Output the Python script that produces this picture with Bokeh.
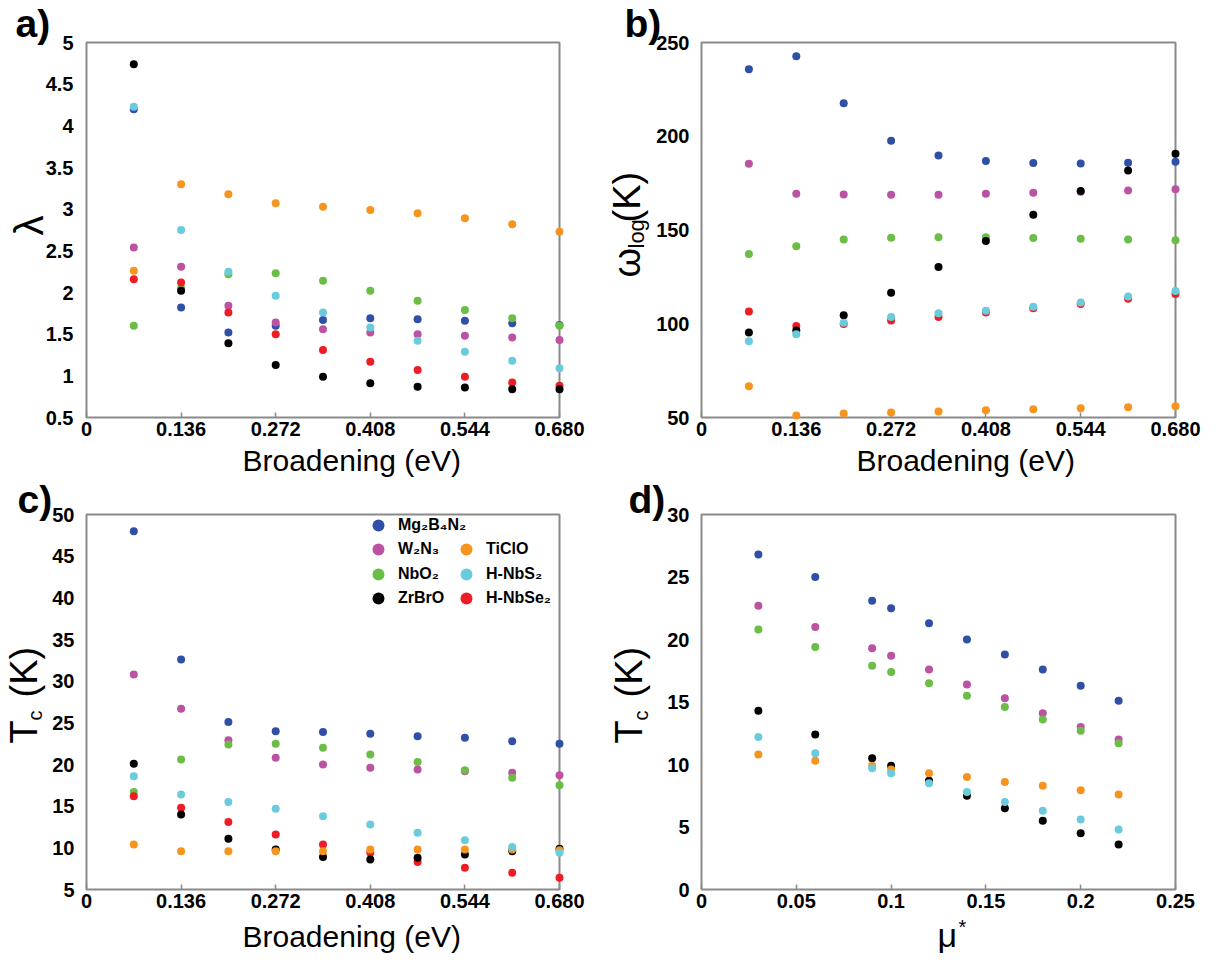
from bokeh.plotting import figure
from bokeh.models import Range1d, FixedTicker, Title, Legend, LegendItem
from bokeh.layouts import column, row
from bokeh.embed import file_html
from bokeh.resources import INLINE

# ---------------- data ----------------
broadening = [0.068, 0.136, 0.204, 0.272, 0.340, 0.408, 0.476, 0.544, 0.612, 0.680]
mu_star = [0.03, 0.06, 0.09, 0.10, 0.12, 0.14, 0.16, 0.18, 0.20, 0.22]

materials = ["Mg2B4N2", "W2N3", "NbO2", "HNbSe2", "ZrBrO", "TiClO", "HNbS2"]  # drawing order
legend_names = {"Mg2B4N2": "Mg₂B₄N₂", "W2N3": "W₂N₃", "NbO2": "NbO₂", "ZrBrO": "ZrBrO",
                "TiClO": "TiClO", "HNbS2": "H-NbS₂", "HNbSe2": "H-NbSe₂"}
colors = {"Mg2B4N2": "#3050A8", "W2N3": "#BB52A2", "NbO2": "#6BBD46", "ZrBrO": "#000000",
          "TiClO": "#F7941E", "HNbS2": "#6ACBDD", "HNbSe2": "#EE1D25"}

# (a) lambda vs broadening
lam_Mg2B4N2 = [4.20, 1.82, 1.52, 1.60, 1.67, 1.69, 1.68, 1.66, 1.63, 1.61]
lam_W2N3 = [2.54, 2.31, 1.84, 1.64, 1.56, 1.52, 1.50, 1.48, 1.46, 1.43]
lam_NbO2 = [1.60, 2.05, 2.22, 2.23, 2.14, 2.02, 1.90, 1.79, 1.69, 1.60]
lam_ZrBrO = [4.74, 2.02, 1.39, 1.13, 0.99, 0.91, 0.87, 0.86, 0.84, 0.84]
lam_TiClO = [2.26, 3.30, 3.18, 3.07, 3.03, 2.99, 2.95, 2.89, 2.82, 2.73]
lam_HNbS2 = [4.23, 2.75, 2.25, 1.96, 1.76, 1.58, 1.42, 1.29, 1.18, 1.09]
lam_HNbSe2 = [2.16, 2.12, 1.76, 1.50, 1.31, 1.17, 1.07, 0.99, 0.92, 0.88]

# (b) omega_log (K) vs broadening
wlog_Mg2B4N2 = [235.8, 242.7, 217.6, 197.6, 189.8, 186.8, 185.7, 185.5, 185.9, 186.4]
wlog_W2N3 = [185.3, 169.4, 169.0, 168.8, 168.8, 169.4, 169.9, 170.4, 171.1, 171.7]
wlog_NbO2 = [137.2, 141.3, 144.9, 145.9, 146.1, 146.1, 145.7, 145.4, 145.0, 144.5]
wlog_ZrBrO = [95.3, 96.4, 104.5, 116.6, 130.3, 144.1, 158.2, 170.8, 181.8, 190.7]
wlog_TiClO = [66.7, 51.1, 52.1, 52.7, 53.2, 53.9, 54.4, 55.0, 55.5, 56.0]
wlog_HNbS2 = [90.7, 94.4, 100.6, 103.6, 105.6, 107.0, 109.1, 111.3, 114.5, 117.5]
wlog_HNbSe2 = [106.5, 98.8, 99.9, 101.7, 103.6, 106.0, 108.3, 110.6, 113.4, 115.9]

# (c) Tc (K) vs broadening
tcb_Mg2B4N2 = [48.0, 32.6, 25.1, 24.0, 23.9, 23.7, 23.4, 23.2, 22.8, 22.5]
tcb_W2N3 = [30.8, 26.7, 22.9, 20.8, 20.0, 19.6, 19.4, 19.2, 19.0, 18.7]
tcb_NbO2 = [16.7, 20.6, 22.4, 22.5, 22.0, 21.2, 20.3, 19.3, 18.4, 17.5]
tcb_ZrBrO = [20.1, 14.0, 11.1, 9.8, 8.9, 8.6, 8.8, 9.2, 9.6, 9.9]
tcb_TiClO = [10.4, 9.6, 9.6, 9.6, 9.6, 9.8, 9.8, 9.8, 9.8, 9.7]
tcb_HNbS2 = [18.6, 16.4, 15.5, 14.7, 13.8, 12.8, 11.8, 10.9, 10.1, 9.4]
tcb_HNbSe2 = [16.2, 14.8, 13.1, 11.6, 10.4, 9.4, 8.3, 7.6, 7.0, 6.4]

# (d) Tc (K) vs mu*
tcm_Mg2B4N2 = [26.8, 25.0, 23.1, 22.5, 21.3, 20.0, 18.8, 17.6, 16.3, 15.1]
tcm_W2N3 = [22.7, 21.0, 19.3, 18.7, 17.6, 16.4, 15.3, 14.1, 13.0, 12.0]
tcm_NbO2 = [20.8, 19.4, 17.9, 17.4, 16.5, 15.5, 14.6, 13.6, 12.7, 11.7]
tcm_ZrBrO = [14.3, 12.4, 10.5, 9.9, 8.7, 7.5, 6.5, 5.5, 4.5, 3.6]
tcm_TiClO = [10.8, 10.3, 9.9, 9.6, 9.3, 9.0, 8.6, 8.3, 7.95, 7.6]
tcm_HNbS2 = [12.2, 10.9, 9.7, 9.3, 8.5, 7.8, 7.0, 6.3, 5.6, 4.8]

lam = {"Mg2B4N2": lam_Mg2B4N2, "W2N3": lam_W2N3, "NbO2": lam_NbO2, "ZrBrO": lam_ZrBrO,
       "TiClO": lam_TiClO, "HNbS2": lam_HNbS2, "HNbSe2": lam_HNbSe2}
wlog = {"Mg2B4N2": wlog_Mg2B4N2, "W2N3": wlog_W2N3, "NbO2": wlog_NbO2, "ZrBrO": wlog_ZrBrO,
        "TiClO": wlog_TiClO, "HNbS2": wlog_HNbS2, "HNbSe2": wlog_HNbSe2}
tcb = {"Mg2B4N2": tcb_Mg2B4N2, "W2N3": tcb_W2N3, "NbO2": tcb_NbO2, "ZrBrO": tcb_ZrBrO,
       "TiClO": tcb_TiClO, "HNbS2": tcb_HNbS2, "HNbSe2": tcb_HNbSe2}
tcm = {"Mg2B4N2": tcm_Mg2B4N2, "W2N3": tcm_W2N3, "NbO2": tcm_NbO2, "ZrBrO": tcm_ZrBrO,
       "TiClO": tcm_TiClO, "HNbS2": tcm_HNbS2}

x_ticks_b = [0, 0.136, 0.272, 0.408, 0.544, 0.680]
x_labels_b = ["0", "0.136", "0.272", "0.408", "0.544", "0.680"]
x_ticks_mu = [0, 0.05, 0.1, 0.15, 0.2, 0.25]
x_labels_mu = ["0", "0.05", "0.1", "0.15", "0.2", "0.25"]
y_ticks_a = [0.5, 1, 1.5, 2, 2.5, 3, 3.5, 4, 4.5, 5]
y_labels_a = ["0.5", "1", "1.5", "2", "2.5", "3", "3.5", "4", "4.5", "5"]
y_ticks_b = [50, 100, 150, 200, 250]
y_ticks_c = [5, 10, 15, 20, 25, 30, 35, 40, 45, 50]
y_ticks_d = [0, 5, 10, 15, 20, 25, 30]

FONT = "Liberation Sans"
FRAME = "#8a8a8a"


def make_fig(w, h, left, right, top, bottom, xr, yr, xt, xl, yt, yl, ystand):
    p = figure(width=w, height=h, x_range=Range1d(*xr), y_range=Range1d(*yr),
               output_backend="svg", toolbar_location=None,
               min_border_left=left, min_border_right=right,
               min_border_top=top, min_border_bottom=bottom)
    p.xgrid.visible = False
    p.ygrid.visible = False
    p.outline_line_color = FRAME
    p.outline_line_width = 2
    p.background_fill_color = "white"
    p.border_fill_color = "white"
    for ax in (p.xaxis, p.yaxis):
        ax.axis_line_color = None
        ax.minor_tick_line_color = None
        ax.major_label_text_font = FONT
        ax.major_label_text_font_style = "bold"
        ax.major_label_text_font_size = "20px"
        ax.major_label_text_color = "black"
    p.xaxis.ticker = FixedTicker(ticks=xt)
    p.xaxis.major_label_overrides = {t: s for t, s in zip(xt, xl)}
    p.xaxis.major_tick_in = 5
    p.xaxis.major_tick_out = 0
    p.xaxis.major_tick_line_color = FRAME
    p.xaxis.major_tick_line_width = 1.5
    p.xaxis.major_label_standoff = 4
    p.yaxis.ticker = FixedTicker(ticks=yt)
    p.yaxis.major_label_overrides = {t: s for t, s in zip(yt, yl)}
    p.yaxis.major_tick_line_color = None
    p.yaxis.major_label_standoff = ystand
    return p


def side_text(p, side, text, size, offset, standoff, valign, style="normal"):
    """Text placed in a zero-size side panel (title annotation) so it is not clipped."""
    p.add_layout(Title(text=text, align="left", vertical_align=valign, offset=offset,
                       standoff=standoff, text_font=FONT, text_font_size=size,
                       text_font_style=style, text_color="black"), side)


def points(p, xs, data):
    rs = {}
    for m in materials:
        if m in data:
            rs[m] = p.scatter(xs, data[m], size=8, marker="circle",
                              fill_color=colors[m], line_color=None, level="overlay")
    return rs


BROAD = "Broadening (eV)"

# (a)
pa = make_fig(599, 477, 86, 40, 42, 60, (0, 0.68), (0.5, 5),
              x_ticks_b, x_labels_b, y_ticks_a, y_labels_a, 7)
points(pa, broadening, lam)
side_text(pa, "above", "a)", "39px", -71, -81, "top", "bold")
side_text(pa, "left", "λ", "40px", 182, -72, "top")
side_text(pa, "below", BROAD, "30px", 156, -76, "bottom")

# (b)
pb = make_fig(624, 477, 102, 48, 42, 60, (0, 0.68), (50, 250),
              x_ticks_b, x_labels_b, y_ticks_b, [str(v) for v in y_ticks_b], 6)
points(pb, broadening, wlog)
side_text(pb, "above", "b)", "39px", -77, -81, "top", "bold")
side_text(pb, "left", "ω", "38px", 140, -96, "top")
side_text(pb, "left", "log", "22px", 169, -60, "top")
side_text(pb, "left", "(K)", "38px", 195, -96, "top")
side_text(pb, "below", BROAD, "30px", 155, -76, "bottom")

# (c)
pc = make_fig(599, 484, 86, 40, 37, 72, (0, 0.68), (5, 50),
              x_ticks_b, x_labels_b, y_ticks_c, [str(v) for v in y_ticks_c], 6)
rc = points(pc, broadening, tcb)
side_text(pc, "above", "c)", "39px", -69, -73, "top", "bold")
side_text(pc, "left", "T", "38px", 146, -93, "top")
side_text(pc, "left", "c", "20px", 169, -52, "top")
side_text(pc, "left", "(K)", "38px", 192, -93, "top")
side_text(pc, "below", BROAD, "30px", 156, -84, "bottom")

# legend: one small legend per row (two columns, first row has one entry)
leg_kw = dict(orientation="vertical", glyph_height=30, glyph_width=30, spacing=0,
              padding=0, margin=0, label_standoff=5, label_height=20,
              label_text_font=FONT, label_text_font_style="bold",
              label_text_font_size="16px", label_text_color="black",
              border_line_color=None, background_fill_alpha=0)
legend_cells = [("Mg2B4N2", 277, 349), ("W2N3", 277, 325), ("NbO2", 277, 300),
                ("ZrBrO", 277, 276), ("TiClO", 365, 325), ("HNbS2", 365, 300),
                ("HNbSe2", 365, 276)]
for m, lx, ly in legend_cells:
    pc.add_layout(Legend(items=[LegendItem(label=legend_names[m], renderers=[rc[m]])],
                         location=(lx, ly), **leg_kw))

# (d)
pd_ = make_fig(624, 484, 102, 48, 37, 72, (0, 0.25), (0, 30),
               x_ticks_mu, x_labels_mu, y_ticks_d, [str(v) for v in y_ticks_d], 6)
points(pd_, mu_star, tcm)
side_text(pd_, "above", "d)", "39px", -73, -73, "top", "bold")
side_text(pd_, "left", "T", "38px", 146, -113, "top")
side_text(pd_, "left", "c", "20px", 169, -70, "top")
side_text(pd_, "left", "(K)", "38px", 192, -113, "top")
side_text(pd_, "below", "μ", "34px", 236, -87, "bottom")
side_text(pd_, "below", "*", "20px", 257, -55, "bottom")

layout = column(row(pa, pb), row(pc, pd_))
open("out.html", "w").write(file_html(layout, INLINE))
